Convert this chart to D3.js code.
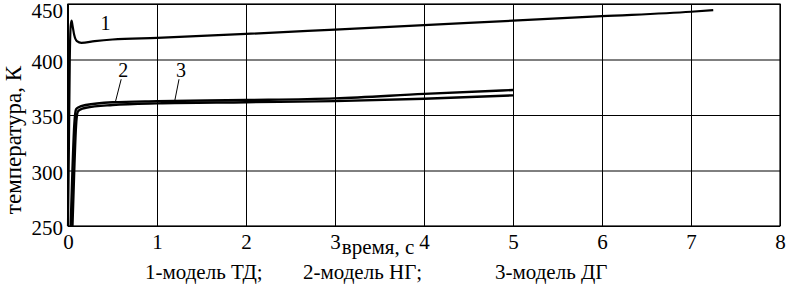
<!DOCTYPE html>
<html><head><meta charset="utf-8">
<script src="https://cdn.jsdelivr.net/npm/d3@7"></script>
<style>
html,body{margin:0;padding:0;background:#fff;}
svg text{font-family:"Liberation Serif","DejaVu Serif",serif !important;fill:#000;}
</style></head>
<body>
<svg id="c" width="789" height="293"></svg>
<script>
// Data
const xTicks = [0,1,2,3,4,5,6,7,8];
const yTicks = [250,300,350,400,450];
const t1 = [0, 0.01, 0.02, 0.03, 0.04, 0.05, 0.07, 0.1, 0.15, 0.3, 0.5, 1, 2, 3, 4, 5, 6, 7, 7.25];
const T1 = [250, 320, 400, 430, 435, 431, 422, 416.5, 415, 416.5, 418, 419.5, 423, 427, 431, 435, 439, 443, 444.5];
const t2 = [0.03, 0.05, 0.07, 0.09, 0.12, 0.2, 0.5, 1, 2, 3, 4, 5];
const T2 = [250, 300, 340, 355, 357, 359, 361.5, 362.5, 363.5, 365, 369, 372.5];
const t3 = [0.05, 0.07, 0.09, 0.11, 0.14, 0.2, 0.5, 1, 2, 3, 4, 5];
const T3 = [250, 300, 340, 353, 355, 356.5, 359, 360.5, 361.5, 362.5, 364.7, 367.7];
const curveLabels = [
  {text:"1", t:0.42, v:427, lt:null, lv:null},
  {text:"2", t:0.62, v:384, lt:0.53, lv:361},
  {text:"3", t:1.27, v:384, lt:1.2, lv:363}
];
const legendItems = ["1-модель ТД;", "2-модель НГ;", "3-модель ДГ"];
const legendX = [145, 303, 495];

const FONT = '"Liberation Serif","DejaVu Serif",serif';
const svg = d3.select("#c");
const x = d3.scaleLinear().domain([0,8]).range([68,780]);
const y = d3.scaleLinear().domain([250,450]).range([226,4]);

// grid via axes
const gx = svg.append("g").attr("transform","translate(0,226)")
  .call(d3.axisBottom(x).tickValues(xTicks).tickSize(-222).tickPadding(8).tickFormat(d3.format("d")));
gx.attr("font-family", FONT).attr("font-size", 21);
gx.select(".domain").remove();
gx.selectAll("line").attr("stroke","#000").attr("stroke-width",1);
gx.selectAll("text").style("font-family",FONT).style("font-size","21px");

const gy = svg.append("g").attr("transform","translate(68,0)")
  .call(d3.axisLeft(y).tickValues(yTicks).tickSize(-712).tickPadding(5));
gy.attr("font-family", FONT).attr("font-size", 21);
gy.select(".domain").remove();
gy.selectAll("line").attr("stroke","#000").attr("stroke-width",1);
gy.selectAll("text").style("font-family",FONT).style("font-size","21px")
  .attr("dy", d => d===450 ? "0.62em" : "0.42em");

// frame
svg.append("rect").attr("x",x(0)).attr("y",y(450)).attr("width",x(8)-x(0)).attr("height",y(250)-y(450))
  .attr("fill","none").attr("stroke","#000").attr("stroke-width",1.2);
svg.append("line").attr("x1",x(0)).attr("x2",x(0)).attr("y1",y(450)).attr("y2",y(250)).attr("stroke","#000").attr("stroke-width",2);

const line = d3.line().x(d=>x(d[0])).y(d=>y(d[1])).curve(d3.curveMonotoneX);
svg.append("path").datum(t1.map((t,i)=>[t,T1[i]])).attr("d",line).attr("fill","none").attr("stroke","#000").attr("stroke-width",2.2);
svg.append("path").datum(t2.map((t,i)=>[t,T2[i]])).attr("d",line).attr("fill","none").attr("stroke","#000").attr("stroke-width",2.4);
svg.append("path").datum(t3.map((t,i)=>[t,T3[i]])).attr("d",line).attr("fill","none").attr("stroke","#000").attr("stroke-width",2.4);

// curve labels
curveLabels.forEach(c=>{
  svg.append("text").attr("x",x(c.t)).attr("y",y(c.v)).attr("text-anchor","middle").style("font-family",FONT).style("font-size","20px").text(c.text);
  if(c.lt!==null){
    svg.append("line").attr("x1",x(c.t)-2).attr("y1",y(c.v)+2).attr("x2",x(c.lt)).attr("y2",y(c.lv))
      .attr("stroke","#000").attr("stroke-width",1);
  }
});

// axis titles
svg.append("text").attr("transform","translate(21,140) rotate(-90)").attr("text-anchor","middle")
  .style("font-family",FONT).style("font-size","23px").text("температура, К");
svg.append("text").attr("x",378).attr("y",254).attr("text-anchor","middle").style("font-family",FONT).style("font-size","21px").text("время, с");

// legend
legendItems.forEach((s,i)=>{
  svg.append("text").attr("x",legendX[i]).attr("y",279).style("font-family",FONT).style("font-size","21px").text(s);
});
</script>
</body></html>
